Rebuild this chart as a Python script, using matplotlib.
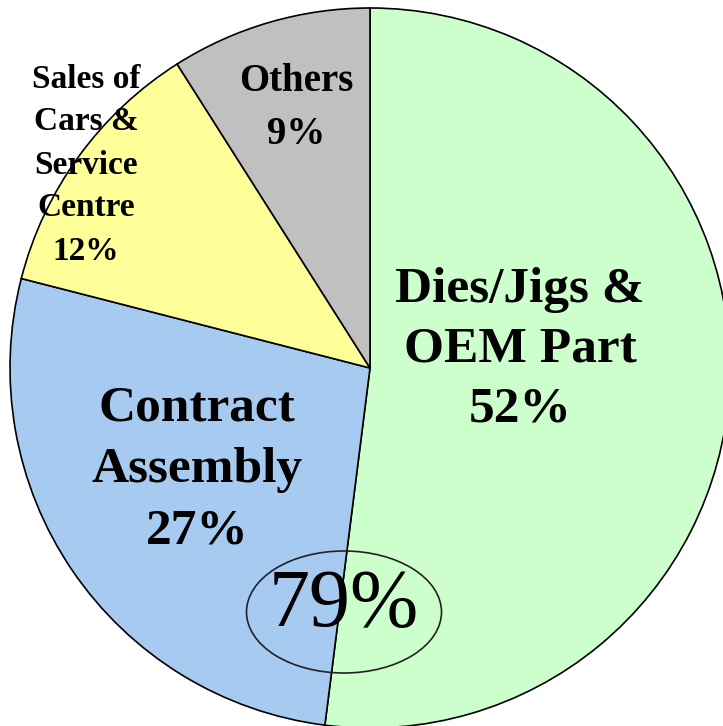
import matplotlib.pyplot as plt
from matplotlib.patches import Ellipse

# slice data, clockwise from 12 o'clock
segments = ['Dies/Jigs &\nOEM Part', 'Contract\nAssembly', 'Sales of\nCars &\nService\nCentre', 'Others']
shares = [52, 27, 12, 9]
colors = ['#CCFFCC', '#A6CAF0', '#FFFF99', '#C0C0C0']
highlight = '79%'

W, H = 723, 726
fig = plt.figure(figsize=(W / 100, H / 100), dpi=100)
ax = fig.add_axes([0, 0, 1, 1])

cx, cy, r = 370, H - 368, 360
ax.pie(shares, colors=colors, startangle=90, counterclock=False,
       center=(cx, cy), radius=r, frame=True,
       wedgeprops=dict(edgecolor='black', linewidth=1.2))
ax.set_xlim(0, W)
ax.set_ylim(0, H)
ax.set_aspect('equal')
ax.axis('off')

font = 'Liberation Serif'
# label spots (pixel coords from top-left), font size, line spacing
spots = [(520, 350, 37, 1.4), (197, 470, 37, 1.44), (86, 165, 24, 1.5), (296, 108, 28, 1.55)]
for name, pct, (x, y, fs, ls) in zip(segments, shares, spots):
    ax.text(x, H - y, f'{name}\n{pct}%', ha='center', va='center',
            fontsize=fs, fontweight='bold', family=font, linespacing=ls)

ax.add_patch(Ellipse((344, H - 612), 195, 122, fill=False, edgecolor='#222222', linewidth=1.2))
ax.text(344, H - 606, highlight, ha='center', va='center', fontsize=59, family=font)

fig.savefig('out.png', dpi=100)
